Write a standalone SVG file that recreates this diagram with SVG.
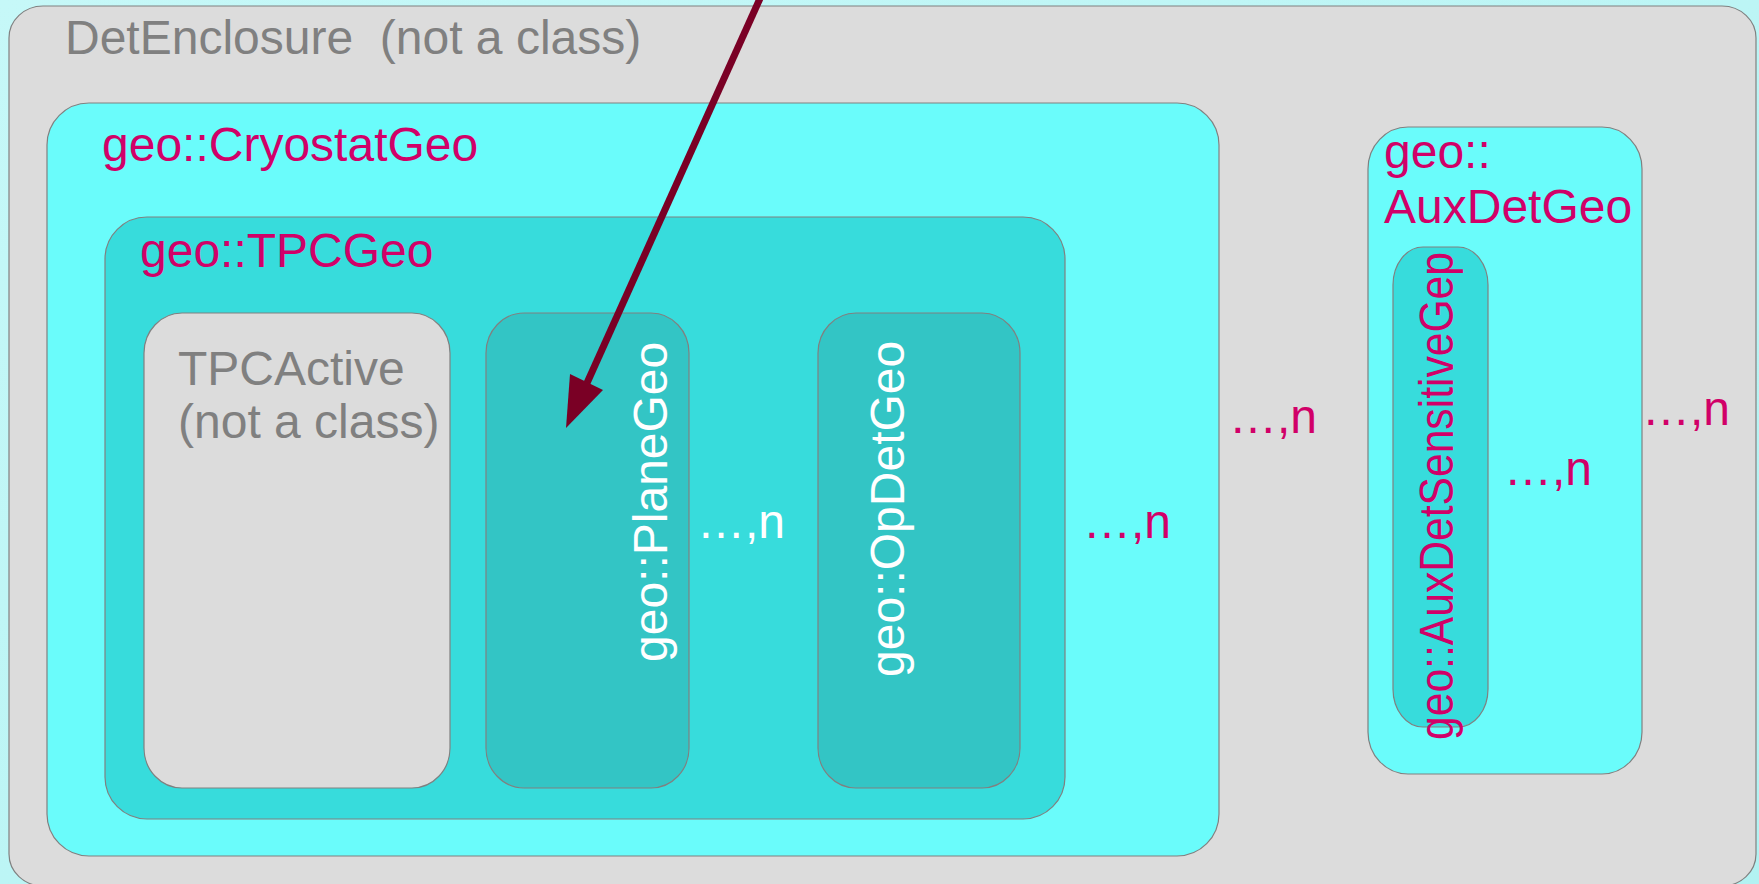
<svg xmlns="http://www.w3.org/2000/svg" width="1759" height="884" viewBox="0 0 1759 884">
  <defs>
    <linearGradient id="bg" x1="0" y1="0" x2="1" y2="1">
      <stop offset="0" stop-color="#c6f8f8"/>
      <stop offset="1" stop-color="#b2f2f2"/>
    </linearGradient>
    <style>
      .box { stroke: #808080; stroke-width: 1.2; }
      .grey { fill: #dcdcdc; }
      .cyan { fill: #6afcfb; }
      .teal { fill: #37dcdc; }
      .dark { fill: #33c5c5; }
      text { font-family: "Liberation Sans", Arial, sans-serif; font-size: 48px; white-space: pre; }
      .lbl-grey { fill: #808080; }
      .lbl-mag { fill: #d10068; }
      .lbl-white { fill: #ffffff; }
    </style>
  </defs>

  <!-- page background -->
  <rect x="0" y="0" width="1759" height="884" fill="url(#bg)"/>

  <g id="det-enclosure">
    <rect class="box grey" x="9" y="6" width="1747" height="880" rx="34" ry="32"/>
    <text class="lbl-grey" x="65" y="54" xml:space="preserve">DetEnclosure  (not a class)</text>
    <text class="lbl-mag" x="1229" y="433">…,n</text>
  </g>

  <g id="cryostat-geo">
    <rect class="box cyan" x="47" y="103" width="1172" height="753" rx="42" ry="42"/>
    <text class="lbl-mag" x="102" y="161">geo::CryostatGeo</text>
    <text class="lbl-mag" x="1083" y="538">…,n</text>
  </g>

  <g id="tpc-geo">
    <rect class="box teal" x="105" y="217" width="960" height="602" rx="42" ry="42"/>
    <text class="lbl-mag" x="140" y="267">geo::TPCGeo</text>
  </g>

  <g id="tpc-active">
    <rect class="box grey" x="144" y="313" width="306" height="475" rx="38" ry="40"/>
    <text class="lbl-grey" x="178" y="385">TPCActive</text>
    <text class="lbl-grey" x="178" y="438">(not a class)</text>
  </g>

  <g id="plane-geo">
    <rect class="box dark" x="486" y="313" width="203" height="475" rx="38" ry="40"/>
    <text class="lbl-white" transform="translate(667,662) rotate(-90)">geo::PlaneGeo</text>
    <text class="lbl-white" x="697" y="538">…,n</text>
  </g>

  <g id="opdet-geo">
    <rect class="box dark" x="818" y="313" width="202" height="475" rx="38" ry="40"/>
    <text class="lbl-white" transform="translate(904,677) rotate(-90)">geo::OpDetGeo</text>
  </g>

  <g id="auxdet-geo">
    <rect class="box cyan" x="1368" y="127" width="274" height="647" rx="40" ry="42"/>
    <text class="lbl-mag" x="1384" y="168">geo::</text>
    <text class="lbl-mag" x="1384" y="223">AuxDetGeo</text>
    <text class="lbl-mag" x="1504" y="485">…,n</text>
    <text class="lbl-mag" x="1642" y="425">…,n</text>
  </g>

  <g id="auxdet-sensitive-geo">
    <rect class="box teal" x="1393" y="247" width="95" height="480" rx="30" ry="38"/>
    <text class="lbl-mag" transform="translate(1453,740) rotate(-90)" textLength="488" lengthAdjust="spacingAndGlyphs">geo::AuxDetSensitiveGep</text>
  </g>

  <g id="connectors">
    <line x1="762" y1="-6" x2="587" y2="383" stroke="#7a0025" stroke-width="7"/>
    <polygon points="566,428 570,374 603,390" fill="#7a0025"/>
  </g>
</svg>
